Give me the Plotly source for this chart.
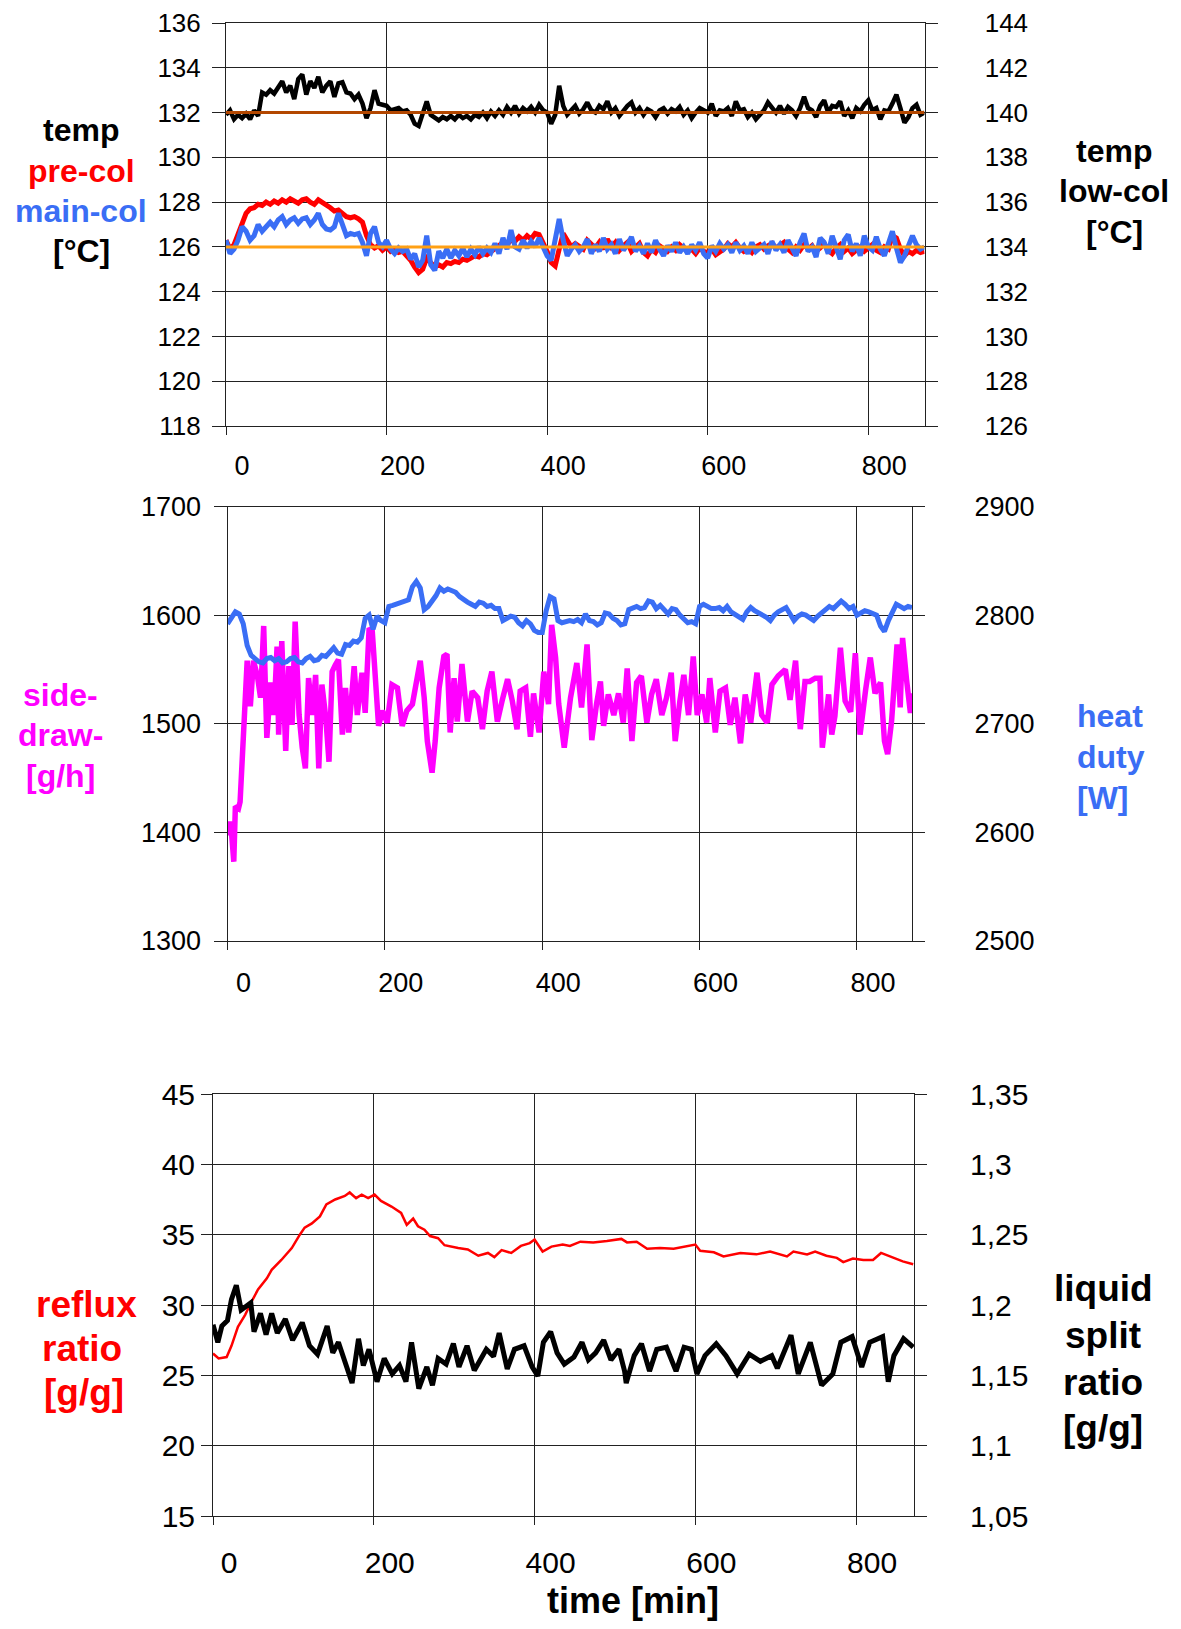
import plotly.graph_objects as go

# ---------------- data ----------------
# top panel: 5-min samples, 0..870 min
t_top = list(range(0, 875, 5))
low_col = [  # temp low-col [°C] (right axis)
    139.9, 140.1, 139.7, 139.9, 139.75, 139.95, 139.7, 140.1, 139.85, 140.9,
    140.8, 141.0, 140.85, 141.1, 141.4, 140.9, 141.2, 140.6, 141.5, 141.7,
    140.8, 141.4, 141.1, 141.6, 140.9, 141.2, 141.4, 140.7, 141.3, 141.35,
    140.9, 140.85, 140.6, 140.8, 140.4, 139.75, 140.2, 141.0, 140.4, 140.35,
    140.3, 140.1, 140.15, 140.2, 140.05, 140.1, 139.9, 139.5, 139.4, 139.9,
    140.5, 139.9, 139.75, 139.65, 139.8, 139.7, 139.85, 139.7, 139.9, 139.75,
    139.85, 139.7, 139.9, 139.8, 140.0, 139.75, 140.05, 139.85, 140.1, 139.9,
    140.25, 140.0, 140.3, 139.95, 140.2, 140.05, 140.25, 140.0, 140.35, 140.1,
    140.0, 139.5, 139.9, 141.2, 140.3, 139.9, 140.1, 140.3, 139.95, 140.15,
    140.45, 140.1, 140.0, 140.3, 140.15, 140.5, 140.0, 140.2, 139.85, 140.1,
    140.3, 140.45, 140.0, 140.2, 139.9, 140.15, 140.05, 139.8, 140.1, 140.2,
    139.95, 140.15, 140.05, 140.25, 139.9, 140.1, 139.75, 140.0, 140.2, 140.1,
    140.0, 140.4, 139.85, 140.1, 140.05, 140.2, 139.85, 140.5, 140.1, 140.15,
    139.8, 140.0, 139.7, 139.9, 140.1, 140.45, 140.2, 140.0, 140.3, 139.95,
    140.25, 140.1, 139.85, 140.2, 140.7, 140.2, 140.1, 139.8, 140.3, 140.55,
    140.0, 140.3, 140.25, 140.5, 139.85, 140.1, 139.75, 140.2, 140.05, 140.35,
    140.55, 140.1, 140.2, 139.7, 140.1, 140.05, 140.4, 140.8, 140.2, 139.55,
    139.8, 140.2, 140.35, 139.9, 140.0,
]
pre_col = [  # temp pre-col [°C] (left axis)
    126.3, 125.9, 126.1, 126.6, 127.1, 127.5, 127.7, 127.75, 127.9, 127.85,
    128.0, 127.9, 128.05, 127.95, 128.1, 128.0, 128.15, 128.05, 127.95, 128.1,
    128.15, 128.0, 127.9, 128.1, 128.0, 127.85, 127.75, 127.6, 127.65, 127.5,
    127.35, 127.3, 127.35, 127.25, 127.1, 126.5, 126.1, 125.95, 126.05, 125.85,
    126.0, 125.8, 125.9, 125.75, 125.8, 125.6, 125.4, 125.1, 124.85, 125.0,
    125.5, 125.3, 125.1, 125.2, 125.1, 125.3, 125.25, 125.35, 125.3, 125.45,
    125.4, 125.5, 125.6, 125.55, 125.7, 125.65, 125.8, 125.9, 126.1, 126.2,
    126.1, 126.3, 126.25, 126.45, 126.3, 126.5, 126.35, 126.6, 126.55, 126.2,
    125.8, 125.3, 125.15, 125.9, 126.6, 126.3, 126.0, 126.15, 126.05, 125.9,
    126.3, 126.1, 125.95, 126.2, 125.9, 126.35, 126.0, 126.2, 125.85, 126.05,
    126.2, 125.8, 125.95, 126.15, 125.75, 125.6, 125.9, 125.75, 126.05, 125.9,
    125.8, 126.0, 125.85, 126.1, 125.95, 125.8, 125.9, 125.7, 125.95, 125.8,
    125.75, 125.9, 125.65, 125.8, 125.9, 126.15, 126.0, 126.2, 125.95, 125.8,
    125.9, 125.75, 126.0, 126.1, 125.9, 126.05, 126.15, 125.95, 126.1, 126.2,
    125.9, 125.75, 126.0, 125.85, 126.1, 125.9, 126.05, 125.8, 125.95, 126.15,
    125.85, 125.7, 125.95, 126.1, 125.8, 125.95, 125.7, 125.85, 126.0, 125.8,
    125.95, 126.1, 125.85, 125.75, 126.0, 125.9, 126.5, 126.4, 125.9, 125.6,
    125.8, 125.7, 125.85, 125.75, 125.8,
]
main_col = [  # temp main-col [°C] (left axis)
    126.3, 125.7, 125.9, 126.3, 126.9, 126.7, 126.3, 126.5, 127.0, 126.7,
    126.9, 127.1, 126.9, 127.2, 127.35, 127.0, 127.2, 127.3, 127.05, 127.25,
    127.3, 127.0, 127.2, 127.5, 127.0, 126.8, 126.75, 126.9, 127.5, 127.0,
    126.5, 126.6, 126.55, 126.6, 126.2, 125.6, 126.6, 126.9, 126.2, 126.0,
    126.3, 125.9, 125.7, 125.95, 125.8, 125.9, 125.45, 125.7, 125.1, 125.4,
    126.5, 125.2, 124.95, 125.8, 125.5, 125.9, 125.5, 125.85, 125.6, 125.95,
    125.55, 125.9, 125.65, 126.0, 125.7, 125.95, 125.75, 126.15, 125.7, 126.4,
    125.9, 126.75, 126.0, 125.9, 126.3, 125.95, 126.25, 126.0, 126.4, 126.0,
    125.6, 125.4, 126.3, 127.25, 126.3, 125.6, 125.9, 126.1, 125.8, 126.0,
    126.35, 125.7, 126.1, 125.8, 126.4, 125.9, 126.1, 125.7, 126.35, 125.85,
    126.1, 126.45, 125.8, 126.05, 125.7, 126.15, 125.75, 126.3, 125.9, 125.6,
    126.05, 125.8, 126.2, 125.75, 126.0, 125.7, 126.1, 125.85, 126.2, 125.7,
    125.5, 126.05, 125.8, 126.15, 125.9, 126.1, 125.75, 126.2, 125.85, 126.05,
    125.7, 126.2, 125.8, 125.95, 126.1, 125.7, 126.25, 125.85, 126.1, 125.75,
    126.3, 125.95, 125.6, 126.2, 126.6, 125.8, 126.0, 125.55, 126.4, 126.2,
    125.7, 126.5, 125.9, 125.45, 126.3, 126.55, 125.8, 126.15, 125.6, 126.5,
    126.0, 125.85, 126.45, 125.9, 125.6, 126.1, 126.7, 125.95, 125.3, 125.6,
    126.05, 126.5, 126.1, 125.9, 126.0,
]
t_sp = [0, 870]
sp_low = [140, 140]
sp_col = [126, 126]

# middle panel
heat_duty = [  # heat duty [W] (right axis), 5-min samples
    2792, 2798, 2803, 2801, 2792, 2772, 2763, 2760, 2757, 2756,
    2760, 2761, 2758, 2760, 2756, 2757, 2760, 2761, 2757, 2756,
    2760, 2762, 2758, 2759, 2763, 2762, 2766, 2770, 2765, 2764,
    2773, 2772, 2776, 2775, 2779, 2797, 2800, 2787, 2799, 2795,
    2793, 2808, 2809, 2810, 2812, 2813, 2814, 2826, 2831, 2825,
    2805, 2808, 2813, 2818, 2825, 2822, 2824, 2823, 2821, 2817,
    2814, 2812, 2810, 2808, 2812, 2811, 2808, 2809, 2806, 2806,
    2795, 2797, 2799, 2798, 2793, 2790, 2795, 2792, 2786, 2784,
    2784, 2804, 2817, 2815, 2795, 2793, 2794, 2795, 2794, 2796,
    2793, 2801, 2795, 2794, 2791, 2793, 2802, 2801, 2797, 2795,
    2791, 2792, 2805, 2806, 2808, 2806, 2807, 2813, 2812, 2806,
    2809, 2805, 2801, 2806, 2805, 2800, 2796, 2793, 2794, 2792,
    2808, 2810, 2808, 2806, 2806, 2807, 2804, 2808, 2803, 2801,
    2798, 2796, 2803, 2807, 2804, 2802, 2801, 2798, 2795, 2800,
    2803, 2805, 2807, 2801, 2795, 2799, 2801, 2800, 2797, 2795,
    2799, 2802, 2805, 2808, 2806, 2810, 2813, 2810, 2806, 2808,
    2800, 2802, 2804, 2803, 2801, 2800, 2790, 2785, 2795, 2803,
    2810, 2808, 2806, 2808, 2807,
]
t_sd = [0, 2, 4, 8, 10, 14, 16, 19, 23, 25, 29, 33, 38, 42, 46, 50, 55, 59, 63, 65,
        69, 74, 78, 82, 86, 91, 95, 99, 103, 108, 112, 116, 120, 125, 129, 133, 137, 141, 146, 150,
        154, 161, 165, 171, 175, 180, 184, 188, 192, 197, 203, 209, 216, 222, 228, 235, 239, 245, 250, 254,
        260, 264, 269, 275, 279, 283, 288, 292, 298, 305, 311, 318, 324, 330, 336, 343, 349, 356, 362, 368,
        372, 379, 385, 389, 396, 402, 408, 412, 417, 421, 428, 436, 444, 450, 457, 463, 469, 474, 478, 484,
        491, 497, 503, 508, 514, 520, 526, 533, 539, 545, 552, 558, 564, 569, 575, 580, 586, 592, 597, 603,
        609, 613, 620, 626, 633, 639, 645, 652, 658, 665, 673, 679, 686, 692, 700, 709, 715, 722, 728, 734,
        740, 747, 753, 756, 764, 768, 772, 779, 785, 792, 798, 804, 811, 817, 823, 830, 835, 839, 844, 851,
        855, 858, 863, 868, 871]
side_draw = [1402, 1398, 1410, 1373, 1424, 1422, 1428, 1478, 1521, 1558, 1516, 1558, 1544, 1524, 1590, 1487, 1538, 1508, 1571, 1490,
             1576, 1475, 1553, 1499, 1594, 1508, 1478, 1459, 1542, 1508, 1545, 1459, 1536, 1505, 1465, 1548, 1554, 1559, 1490, 1533,
             1492, 1553, 1508, 1547, 1510, 1588, 1585, 1530, 1498, 1512, 1501, 1536, 1533, 1498, 1512, 1518, 1536, 1558, 1524, 1484,
             1455, 1484, 1533, 1562, 1564, 1492, 1542, 1502, 1555, 1502, 1530, 1524, 1495, 1530, 1548, 1502, 1521, 1541, 1521, 1495,
             1530, 1533, 1488, 1528, 1492, 1548, 1518, 1591, 1561, 1518, 1478, 1524, 1556, 1515, 1573, 1485, 1518, 1539, 1498, 1527,
             1508, 1528, 1501, 1551, 1484, 1538, 1544, 1501, 1527, 1541, 1508, 1524, 1547, 1484, 1521, 1545, 1508, 1562, 1508, 1527,
             1501, 1542, 1492, 1530, 1533, 1499, 1524, 1482, 1527, 1501, 1547, 1508, 1501, 1536, 1544, 1550, 1522, 1558, 1495, 1539,
             1539, 1542, 1542, 1478, 1527, 1490, 1507, 1570, 1521, 1511, 1565, 1490, 1531, 1561, 1528, 1538, 1484, 1472, 1502, 1573,
             1515, 1579, 1541, 1510, 1528]

# bottom panel
t_rr = [0, 7, 17, 23, 31, 40, 48, 56, 67, 73, 85, 98, 108, 114, 123, 133, 141, 152, 164, 170,
        178, 185, 193, 201, 209, 222, 234, 241, 249, 255, 263, 270, 280, 288, 305, 317, 330, 342, 350, 359,
        371, 383, 394, 400, 410, 421, 435, 444, 457, 473, 490, 508, 515, 527, 540, 556, 573, 589, 600, 606,
        623, 635, 656, 676, 693, 714, 722, 739, 749, 763, 776, 784, 796, 809, 821, 831, 846, 858, 871]
reflux = [26.55, 26.2, 26.3, 27.1, 28.45, 29.3, 30.25, 31.1, 31.9, 32.5, 33.2, 34.05, 35.0, 35.5, 35.8, 36.3, 37.15, 37.5, 37.75, 38.0,
          37.6, 37.85, 37.6, 37.85, 37.4, 37.0, 36.55, 35.7, 36.15, 35.6, 35.35, 34.9, 34.75, 34.25, 34.05, 33.95, 33.5, 33.7, 33.4, 33.9,
          33.7, 34.2, 34.4, 34.65, 33.8, 34.15, 34.3, 34.2, 34.5, 34.45, 34.55, 34.7, 34.45, 34.5, 34.0, 34.05, 34.0, 34.15, 34.3, 33.85,
          33.75, 33.45, 33.7, 33.6, 33.8, 33.45, 33.8, 33.6, 33.8, 33.5, 33.35, 33.05, 33.3, 33.2, 33.2, 33.7, 33.35, 33.1, 32.9]
t_ls = [0, 6, 11, 18, 23, 29, 35, 42, 47, 51, 59, 66, 73, 80, 90, 99, 111, 120, 130, 142,
        149, 156, 163, 173, 181, 187, 194, 204, 213, 223, 232, 240, 247, 256, 266, 273, 280, 290, 299, 306,
        316, 325, 340, 349, 356, 366, 375, 387, 397, 404, 411, 420, 428, 437, 449, 459, 467, 476, 486, 495,
        505, 512, 514, 524, 533, 543, 552, 564, 576, 586, 595, 602, 612, 626, 638, 652, 667, 681, 695, 702,
        719, 728, 743, 757, 771, 781, 795, 807, 817, 833, 840, 847, 859, 871]
liquid_split = [1.186, 1.1735, 1.185, 1.189, 1.204, 1.214, 1.1965, 1.200, 1.2015, 1.181, 1.194, 1.179, 1.194, 1.180, 1.190, 1.175, 1.1875, 1.171, 1.165, 1.185,
                1.166, 1.1735, 1.161, 1.1445, 1.176, 1.157, 1.1685, 1.1455, 1.162, 1.151, 1.157, 1.1455, 1.1735, 1.1405, 1.156, 1.143, 1.162, 1.158, 1.1725, 1.156,
                1.171, 1.1535, 1.1685, 1.1635, 1.180, 1.1545, 1.1685, 1.171, 1.156, 1.1495, 1.1735, 1.181, 1.166, 1.158, 1.163, 1.1735, 1.161, 1.166, 1.175, 1.161,
                1.1685, 1.153, 1.1445, 1.164, 1.1725, 1.153, 1.1685, 1.170, 1.153, 1.170, 1.1685, 1.151, 1.164, 1.1725, 1.164, 1.151, 1.165, 1.160, 1.164, 1.155,
                1.1785, 1.151, 1.1735, 1.143, 1.151, 1.1735, 1.1775, 1.156, 1.1735, 1.1775, 1.1455, 1.164, 1.176, 1.170]

# tick labels
x_ticks = [0, 200, 400, 600, 800]
ls_tickvals = [1.05, 1.10, 1.15, 1.20, 1.25, 1.30, 1.35]
ls_ticktext = ["1,05", "1,1", "1,15", "1,2", "1,25", "1,3", "1,35"]

# ---------------- figure ----------------
# the page body keeps its default 8 px margin, so the figure is placed
# 8 px in from the top-left corner of the window
OFF = 8
W, H = 1181 - 2 * OFF, 1629 - 2 * OFF
FONT = "Liberation Sans, Arial, Helvetica, sans-serif"
GRID = "#222222"
RED = "#FF0000"
BLUE = "#3A6EF5"
MAGENTA = "#FF00FF"


def dx(a, b):
    return [(a - OFF) / W, (b - OFF) / W]


def dy(top, bot):
    return [1 - (bot - OFF) / H, 1 - (top - OFF) / H]


fig = go.Figure()

# top panel
fig.add_trace(go.Scatter(x=t_top, y=low_col, xaxis="x", yaxis="y2", mode="lines",
                         line=dict(color="black", width=4.5)))
fig.add_trace(go.Scatter(x=t_sp, y=sp_low, xaxis="x", yaxis="y2", mode="lines",
                         line=dict(color="#B34700", width=3)))
fig.add_trace(go.Scatter(x=t_top, y=pre_col, xaxis="x", yaxis="y", mode="lines",
                         line=dict(color=RED, width=5)))
fig.add_trace(go.Scatter(x=t_top, y=main_col, xaxis="x", yaxis="y", mode="lines",
                         line=dict(color=BLUE, width=5)))
fig.add_trace(go.Scatter(x=t_sp, y=sp_col, xaxis="x", yaxis="y", mode="lines",
                         line=dict(color="#FFA014", width=3)))

# middle panel
fig.add_trace(go.Scatter(x=t_sd, y=side_draw, xaxis="x2", yaxis="y3", mode="lines",
                         line=dict(color=MAGENTA, width=5.5)))
fig.add_trace(go.Scatter(x=t_top, y=heat_duty, xaxis="x2", yaxis="y4", mode="lines",
                         line=dict(color=BLUE, width=5)))

# bottom panel
fig.add_trace(go.Scatter(x=t_rr, y=reflux, xaxis="x3", yaxis="y5", mode="lines",
                         line=dict(color=RED, width=2.5)))
fig.add_trace(go.Scatter(x=t_ls, y=liquid_split, xaxis="x3", yaxis="y6", mode="lines",
                         line=dict(color="black", width=5)))


def xax(domain, anchor, rng, size, standoff):
    return dict(domain=domain, anchor=anchor, range=rng, tickvals=x_ticks,
                automargin=False, ticklabeloverflow="allow",
                showgrid=True, gridcolor=GRID, gridwidth=1, zeroline=False,
                showline=True, linecolor=GRID, linewidth=1, mirror=True,
                ticks="outside", ticklen=8, tickcolor=GRID,
                ticklabelshift=16, ticklabelstandoff=standoff,
                tickfont=dict(family=FONT, size=size, color="black"))


def yax_left(domain, anchor, rng, dtick, size, standoff, ticklen=13):
    return dict(domain=domain, anchor=anchor, range=rng, dtick=dtick, tick0=rng[0],
                automargin=False, ticklabeloverflow="allow",
                showgrid=True, gridcolor=GRID, gridwidth=1, zeroline=False,
                showline=True, linecolor=GRID, linewidth=1,
                ticks="outside", ticklen=ticklen, tickcolor=GRID,
                ticklabelstandoff=standoff,
                tickfont=dict(family=FONT, size=size, color="black"))


def yax_right(over, anchor, rng, size, standoff, **kw):
    d = dict(overlaying=over, anchor=anchor, side="right", range=rng,
             automargin=False, ticklabeloverflow="allow",
             showgrid=False, zeroline=False,
             showline=True, linecolor=GRID, linewidth=1,
             ticks="outside", ticklen=12, tickcolor=GRID,
             ticklabelstandoff=standoff,
             tickfont=dict(family=FONT, size=size, color="black"))
    d.update(kw)
    return d


fig.update_layout(
    width=W, height=H,
    margin=dict(l=0, r=0, t=0, b=0, pad=0, autoexpand=False),
    paper_bgcolor="white", plot_bgcolor="white",
    showlegend=False,
    xaxis=xax(dx(226, 924.5), "y", [0, 870], 27, 8),
    yaxis=yax_left(dy(23, 426), "x", [118, 136], 2, 26, 6),
    yaxis2=yax_right("y", "x", [126, 144], 26, 42, dtick=2, tick0=126),
    xaxis2=xax(dx(227.5, 912), "y3", [0, 870], 27, 10),
    yaxis3=yax_left(dy(506.5, 941), "x2", [1300, 1700], 100, 27, 7),
    yaxis4=yax_right("y3", "x2", [2500, 2900], 27, 44, dtick=100, tick0=2500),
    xaxis3=xax(dx(213, 914), "y5", [0, 872], 30, 12),
    yaxis5=yax_left(dy(1094, 1516), "x3", [15, 45], 5, 30, 0, ticklen=11),
    yaxis6=yax_right("y5", "x3", [1.05, 1.35], 30, 37,
                     tickvals=ls_tickvals, ticktext=ls_ticktext),
)


def ann(text, x, y, color, size, xanchor="center"):
    fig.add_annotation(text="<b>" + text + "</b>", x=(x - OFF) / W, y=1 - (y - OFF) / H,
                       xref="paper", yref="paper", xanchor=xanchor, yanchor="middle",
                       showarrow=False, font=dict(family=FONT, size=size, color=color))


# top titles
ann("temp", 81, 130, "black", 32)
ann("pre-col", 81, 171, RED, 32)
ann("main-col", 81, 211, BLUE, 32)
ann("[°C]", 81, 251, "black", 32)
ann("temp", 1114, 151, "black", 32)
ann("low-col", 1114, 191, "black", 32)
ann("[°C]", 1114, 232, "black", 32)
# middle titles
ann("side-", 60, 695, MAGENTA, 32)
ann("draw-", 60, 735, MAGENTA, 32)
ann("[g/h]", 60, 776, MAGENTA, 32)
ann("heat", 1075, 716, BLUE, 32, "left")
ann("duty", 1075, 757, BLUE, 32, "left")
ann("[W]", 1075, 798, BLUE, 32, "left")
# bottom titles
ann("reflux", 87, 1304, RED, 37)
ann("ratio", 82, 1348, RED, 37)
ann("[g/g]", 84, 1392, RED, 37)
ann("liquid", 1103, 1288, "black", 37)
ann("split", 1103, 1335, "black", 37)
ann("ratio", 1103, 1382, "black", 37)
ann("[g/g]", 1103, 1428, "black", 37)
ann("time [min]", 633, 1600, "black", 36)

fig.write_html("out.html")
